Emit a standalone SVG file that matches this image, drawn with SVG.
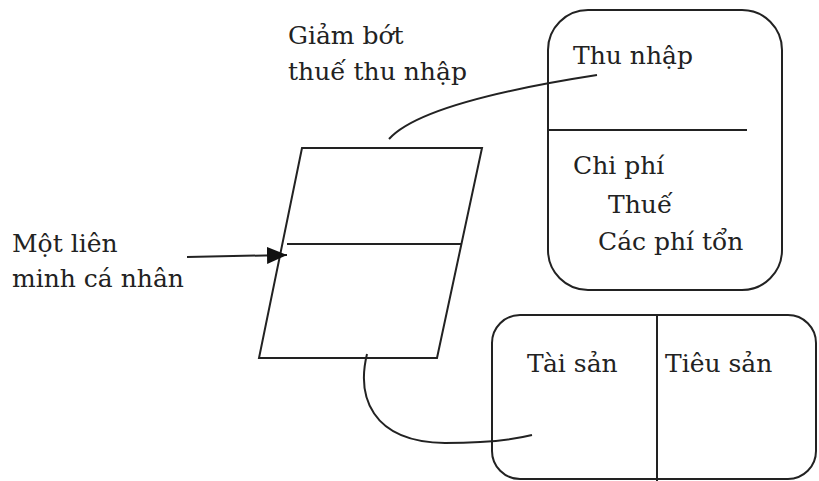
<svg xmlns="http://www.w3.org/2000/svg" width="819" height="481" viewBox="0 0 819 481">
<style>
.t{font-family:'DejaVu Serif',serif;font-size:25px;fill:#222}
.s{fill:none;stroke:#222;stroke-width:2}
</style>
<defs>
<marker id="ah" viewBox="0 0 20 17" refX="20" refY="8.5" markerWidth="20" markerHeight="17" markerUnits="userSpaceOnUse" orient="auto">
<path d="M0,0 L20,8.5 L0,17 Z" fill="#111"/>
</marker>
</defs>
<rect width="819" height="481" fill="#fff"/>
<g id="parallelogram">
<path class="s" d="M302,148 L482,148 L437,358 L259,358 Z"/>
<line class="s" x1="287" y1="244" x2="462" y2="244"/>
</g>
<g id="label-giam">
<text class="t" x="288" y="44">Giảm bớt</text>
<text class="t" x="288" y="80">thuế thu nhập</text>
</g>
<g id="label-lienminh">
<text class="t" x="12" y="252">Một liên</text>
<text class="t" x="12" y="287">minh cá nhân</text>
</g>
<g id="income-box">
<rect class="s" x="548" y="10" width="234" height="280" rx="40" ry="40"/>
<line class="s" x1="548" y1="130" x2="747" y2="130"/>
<text class="t" x="573" y="64">Thu nhập</text>
<text class="t" x="573" y="174">Chi phí</text>
<text class="t" x="608" y="213">Thuế</text>
<text class="t" x="598" y="250">Các phí tổn</text>
</g>
<g id="balance-box">
<rect class="s" x="492" y="315" width="324" height="164" rx="28" ry="28"/>
<line class="s" x1="657" y1="315" x2="657" y2="481"/>
<text class="t" x="527" y="372">Tài sản</text>
<text class="t" x="665" y="372">Tiêu sản</text>
</g>
<g id="connectors">
<line class="s" x1="187" y1="257" x2="287" y2="255" marker-end="url(#ah)"/>
<path class="s" d="M389,139 C415,110 500,90 597,75"/>
<path class="s" d="M367,354 C357,395 370,442 445,443 Q500,443 532,435"/>
</g>
</svg>
